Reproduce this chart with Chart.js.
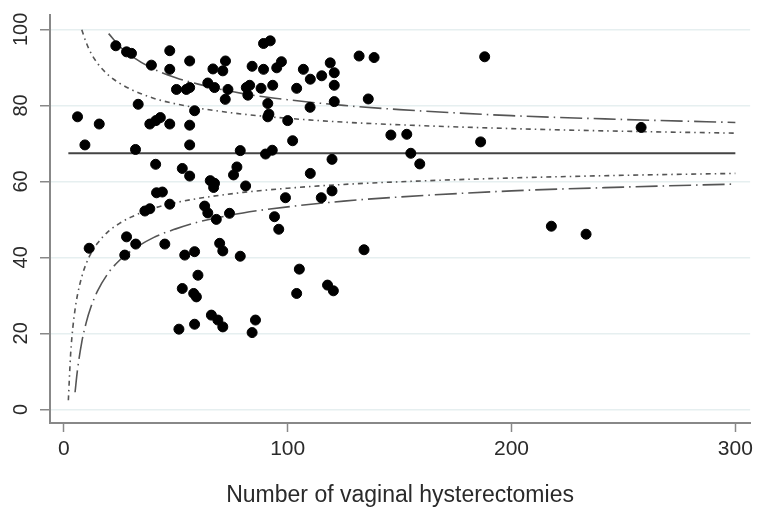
<!DOCTYPE html>
<html>
<head>
<meta charset="utf-8">
<script src="https://cdn.jsdelivr.net/npm/chart.js@4"></script>
<style>
  html, body { margin: 0; padding: 0; background: #fff; }
  #wrap { width: 758px; height: 513px; }
</style>
</head>
<body>
<div id="wrap"><canvas id="funnel" width="758" height="513"></canvas></div>
<script>
// Hospitals: number of vaginal hysterectomies vs. percentage
const hystCounts = [
  6.1, 9.4, 11.3, 15.8, 23.2, 28.0, 30.2, 27.2, 28.0, 32.0,
  32.1, 33.2, 36.2, 38.4, 38.4, 39.1, 41.0, 41.1, 41.4, 43.1,
  44.0, 45.1, 47.3, 47.3, 47.3, 47.3, 50.3, 51.4, 52.9, 52.9,
  54.0, 54.7, 56.2, 56.2, 56.2, 56.2, 56.2, 58.0, 58.4, 58.4,
  58.4, 59.2, 59.9, 62.9, 64.3, 64.3, 65.4, 65.9, 66.6, 66.9,
  67.3, 67.3, 68.1, 68.8, 69.6, 71.0, 71.0, 71.0, 72.1, 72.2,
  73.3, 74.0, 75.8, 77.3, 78.8, 78.8, 81.2, 81.5, 82.2, 83.0,
  84.1, 84.1, 85.6, 88.1, 89.2, 89.2, 90.1, 91.1, 91.1, 91.6,
  92.2, 93.1, 93.3, 94.1, 95.1, 96.0, 97.2, 99.0, 100.0, 102.2,
  104.0, 104.0, 105.2, 107.0, 110.0, 110.1, 110.1, 115.0, 115.2, 117.8,
  119.0, 119.8, 119.8, 120.4, 120.8, 120.8, 120.8, 131.9, 134.1, 136.0,
  138.6, 146.1, 153.2, 155.0, 159.0, 186.2, 188.0, 217.8, 233.3, 257.9
];
const hystPct = [
  77.0, 69.6, 42.4, 75.1, 95.7, 94.1, 93.7, 40.6, 45.4, 68.4,
  43.5, 80.3, 52.2, 52.8, 75.1, 90.6, 64.5, 76.0, 57.0, 76.8,
  57.2, 43.5, 94.4, 89.5, 75.1, 54.0, 84.2, 21.1, 63.4, 31.8,
  40.6, 84.2, 91.7, 84.7, 74.8, 69.6, 61.4, 30.5, 78.6, 41.5,
  22.4, 29.6, 35.3, 53.5, 85.9, 51.7, 60.2, 24.8, 89.6, 58.4,
  84.7, 59.5, 50.0, 23.5, 43.7, 89.1, 41.7, 21.7, 81.6, 91.7,
  84.2, 51.6, 61.7, 63.8, 68.1, 40.3, 58.8, 84.7, 82.7, 85.3,
  90.3, 20.2, 23.5, 84.5, 96.3, 89.5, 67.2, 80.5, 77.0, 77.7,
  97.0, 68.2, 85.3, 50.7, 89.9, 47.4, 91.5, 55.7, 76.0, 70.7,
  84.5, 30.5, 36.9, 89.5, 79.5, 86.9, 62.1, 55.7, 87.8, 32.7,
  91.2, 65.8, 57.5, 31.2, 88.6, 85.3, 81.0, 93.0, 42.0, 81.7,
  92.6, 72.2, 72.4, 67.4, 64.6, 70.4, 92.8, 48.2, 46.1, 74.2
];

// Overall mean
const meanN = [2, 300];
const meanPct = [67.4, 67.4];

// Control limits
const limitN = [2, 3, 4, 5, 6, 8, 10, 12, 15, 20, 25, 30, 40, 50, 60, 80, 100, 125, 150, 200, 250, 300];
const upper95 = [null, null, null, null, null, 99.9, 96.5, 93.9, 91.1, 87.9, 85.8, 84.2, 81.9, 80.4, 79.3, 77.7, 76.6, 75.6, 74.9, 73.9, 73.2, 72.7];
const lower95 = [2.4, 14.4, 21.5, 26.3, 29.9, 34.9, 38.4, 40.9, 43.7, 46.9, 49.0, 50.6, 52.9, 54.4, 55.5, 57.1, 58.2, 59.2, 59.9, 60.9, 61.6, 62.1];
const upper997 = [null, null, null, null, null, null, null, null, null, 98.9, 95.5, 93.1, 89.6, 87.3, 85.6, 83.1, 81.5, 80.0, 78.9, 77.3, 76.3, 75.5];
const lower997 = [null, null, null, 4.5, 10.0, 17.7, 22.9, 26.8, 31.1, 36.0, 39.3, 41.7, 45.2, 47.5, 49.3, 51.7, 53.3, 54.8, 55.9, 57.5, 58.5, 59.3];

const xTicks = [0, 100, 200, 300];
const yTicks = [0, 20, 40, 60, 80, 100];

const toXY = (xs, ys) => xs.map((x, i) => ({ x: x, y: ys[i] }));

const curve = (ys, dash) => ({
  type: 'line',
  data: toXY(limitN, ys),
  borderColor: '#555',
  borderWidth: 1.6,
  borderDash: dash,
  pointRadius: 0,
  fill: false,
  cubicInterpolationMode: 'monotone',
  order: 1
});

const fontFamily = '"Liberation Sans", Arial, Helvetica, sans-serif';

new Chart(document.getElementById('funnel'), {
  type: 'scatter',
  data: {
    datasets: [
      {
        data: toXY(hystCounts, hystPct),
        backgroundColor: '#000',
        borderColor: '#000',
        pointRadius: 5,
        pointBorderWidth: 1,
        order: 0
      },
      {
        type: 'line',
        data: toXY(meanN, meanPct),
        borderColor: '#444',
        borderWidth: 2,
        pointRadius: 0,
        order: 1
      },
      curve(upper95, [5, 4, 1.5, 4]),
      curve(lower95, [5, 4, 1.5, 4]),
      curve(upper997, [22, 5, 1.5, 5]),
      curve(lower997, [22, 5, 1.5, 5])
    ]
  },
  options: {
    responsive: false,
    animation: false,
    layout: { padding: { top: 15, right: 6, left: 0, bottom: 0 } },
    plugins: { legend: { display: false }, tooltip: { enabled: false } },
    scales: {
      x: {
        type: 'linear',
        min: -6.2,
        max: 306.6,
        afterFit: s => { s.height = 90; },
        afterBuildTicks: s => { s.ticks = xTicks.map(v => ({ value: v })); },
        border: { color: '#888', width: 2 },
        grid: { drawOnChartArea: false, tickLength: 9, tickColor: '#888', tickWidth: 1.5 },
        ticks: { color: '#2a2a2a', padding: 5, font: { family: fontFamily, size: 21 } },
        title: {
          display: true,
          text: 'Number of vaginal hysterectomies',
          color: '#2a2a2a',
          padding: { top: 0, bottom: 4 },
          font: { family: fontFamily, size: 23 }
        }
      },
      y: {
        type: 'linear',
        min: -3.6,
        max: 103.8,
        afterFit: s => { s.width = 50; },
        afterBuildTicks: s => { s.ticks = yTicks.map(v => ({ value: v })); },
        border: { color: '#888', width: 2 },
        grid: { color: '#e6eff0', lineWidth: 1.5, tickLength: 10, tickColor: '#888', tickWidth: 1.5 },
        ticks: {
          color: '#2a2a2a',
          padding: 2,
          minRotation: 90,
          maxRotation: 90,
          crossAlign: 'center',
          font: { family: fontFamily, size: 20 }
        }
      }
    }
  }
});
</script>
</body>
</html>
